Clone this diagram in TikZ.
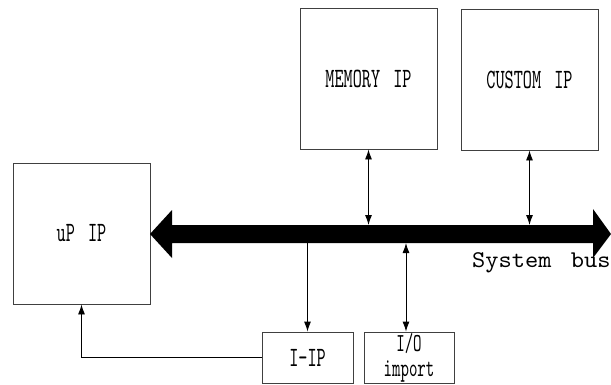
\documentclass[tikz,border=0pt]{standalone}
\usepackage{fontspec}
\usetikzlibrary{arrows.meta}
\newfontfamily\labfont{lmmono10-regular.otf}[FakeStretch=0.62]
\newfontfamily\busfont{lmmono10-regular.otf}[FakeStretch=1.05]
\tikzset{
  box/.style={draw=black!75, line width=0.9pt, fill=white, inner sep=0pt,
    font=\labfont\fontsize{28}{27}\selectfont, align=center},
  conn/.style={draw=black, line width=0.9pt, arrows={-Latex[length=10pt,width=7pt]}},
  biconn/.style={draw=black, line width=0.9pt, arrows={Latex[length=10pt,width=7pt]-Latex[length=10pt,width=7pt]}}
}
\begin{document}
\begin{tikzpicture}[x=1pt,y=-1pt]
\useasboundingbox (0,0) rectangle (611,384);
% boxes
\node[box, minimum width=137pt, minimum height=141pt] (up) at (81.5,233.5) {uP\hspace{4pt} IP};
\node[box, minimum width=137pt, minimum height=141pt] (mem) at (368.5,78.5) {MEMORY\hspace{4pt} IP};
\node[box, minimum width=137pt, minimum height=141pt] (cus) at (529.5,79.5) {CUSTOM\hspace{4pt} IP};
\node[box, minimum width=91pt, minimum height=51pt] (iip) at (307.5,357.5) {I-IP};
\node[box, minimum width=90pt, minimum height=51pt] (io) at (409,357.5) {};
\node[inner sep=0pt, align=center, font=\labfont\fontsize{26}{25}\selectfont] (iotext) at (409,358) {I/O\\import};
% system bus
\fill[black] (150,234) -- (172,210) -- (172,225) -- (593,225) -- (593,209)
  -- (611,234) -- (593,258) -- (593,243) -- (172,243) -- (172,258) -- cycle;
\coordinate (bustop) at (0,225);
\coordinate (busbot) at (0,243);
\node[font=\busfont\fontsize{24}{25}\selectfont, anchor=west, inner sep=0pt] (buslabel) at (472,263) {System\hspace{6pt} bus};
% connectors
\draw[biconn] (mem.south) -- (mem.south |- bustop);
\draw[biconn] (cus.south) -- (cus.south |- bustop);
\draw[conn] (iip.north |- busbot) -- (iip.north);
\draw[biconn] ([xshift=-3pt]io.north |- busbot) -- ([xshift=-3pt]io.north);
\draw[conn] (iip.west) -| (up.south);
\end{tikzpicture}
\end{document}
